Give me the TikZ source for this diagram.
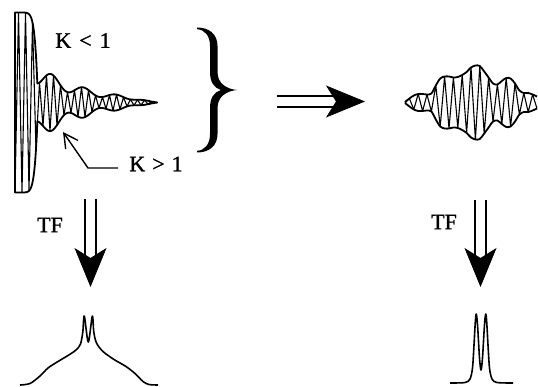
\documentclass[tikz,border=0pt]{standalone}
\usepackage{fontspec}
\setmainfont{Liberation Serif}
\newfontfamily\lblfont{Liberation Serif}[FakeBold=1.2]
\usetikzlibrary{arrows.meta}
\def\Aright{{0.5,4,7,8.5,8.5,8,9,17,24,26,26,25,25.5,27.5,30.5,35,37,36.5,31,25,19,18,21.5,24.5,24,19,12,9.5,9.5,8,6}}
\tikzset{lbl/.style={inner sep=0pt,font=\lblfont\fontsize{22}{26}\selectfont},env/.style={line width=1.8pt,line join=round},osc/.style={line width=1.1pt,line join=round},spec/.style={line width=1.6pt,line join=round,smooth,tension=.5},shaft/.style={double,double distance=9.7pt,line width=1.4pt,shorten >=32pt},head/.style={line width=.8pt,-{Stealth[length=39pt,width=32pt,inset=10pt]},shorten <=59pt},barb/.style={line width=1.4pt,-{Straight Barb[length=14pt,width=15pt]}},declare function={bq(\x)=(min(\x-15,25)/23)*(min(\x-15,25)/23);bigenv(\x)=90*(1-bq(\x)*bq(\x)*bq(\x)*bq(\x));beatenv(\x)=28*exp(-(\x-52)/51)*(0.75+0.25*cos(11.25*(\x-52)))*min(1,(158-\x)/25);fidenv(\x)=max(bigenv(\x),beatenv(\x));}}

\begin{document}
\begin{tikzpicture}[x=1pt,y=-1pt]
\useasboundingbox (0,0) rectangle (538,387);
\draw[env] plot[domain=15:157,samples=300] (\x,{102.5-fidenv(\x)}) -- plot[domain=157:15,samples=300] (\x,{102.5+fidenv(\x)}) -- cycle;
\draw[osc] plot[samples at={15,18.5,...,155}] (\x,{102.5+cos(51.4286*(\x-15))*fidenv(\x)});
\draw[env] plot[smooth,samples at={0,...,30}] ({405+4.4*\x},{102.5-\Aright[\x]});
\draw[env] plot[smooth,samples at={0,...,30}] ({405+4.4*\x},{102.5+\Aright[\x]});
\draw[osc] plot[samples at={0,...,30}] ({405+4.4*\x},{102.5+cos(180*\x)*\Aright[\x]});
\fill (197,27.5) .. controls (209,27.5) and (217.5,34) .. (217.5,46) -- (217.5,72) .. controls (217.5,83) and (226,89) .. (237,90) .. controls (226,91) and (217.5,97) .. (217.5,108) -- (217.5,134) .. controls (217.5,146) and (209,152.5) .. (197,152.5) -- (197,150.8) .. controls (205,150.3) and (210,144) .. (210,134) -- (210,108) .. controls (210,98) and (214,92) .. (221,90) .. controls (214,88) and (210,82) .. (210,72) -- (210,46) .. controls (210,36) and (205,29.7) .. (197,29.2) -- cycle;
\node[lbl] (klt) at (83,40.5) {K\hspace{8pt}<\hspace{8pt}1};
\node[lbl] (kgt) at (156,164) {K\hspace{7pt}>\hspace{7pt}1};
\node[lbl] (tfl) at (50,225) {TF};
\node[lbl] (tfr) at (444,222) {TF};
\coordinate (kA) at (118,168);\coordinate (kB) at (88,168);\coordinate (kC) at (63,132);
\draw[barb] (kA)--(kB)--(kC);
\coordinate (hA) at (277,101.5);\coordinate (hB) at (365,101.5);
\coordinate (lA) at (90.5,199);\coordinate (lB) at (90.5,287);
\coordinate (rA) at (480.5,200);\coordinate (rB) at (480.5,287);
\foreach \a/\b in {hA/hB,lA/lB,rA/rB}{\draw[shaft] (\a)--(\b);\draw[head] (\a)--(\b);}
\draw[spec] plot coordinates {(20,385) (30,383.5) (40,376) (48,368) (58,361.5) (68,355.5) (76,350) (80.5,344) (82.8,332) (84.3,316) (88.3,342) (92.3,316) (93.8,332) (96.5,343) (103,351.5) (114,359.5) (126,366.5) (135,373.5) (143,381.5) (149,384.5) (158,385)};
\draw[spec] plot coordinates {(450,383) (465,382.5) (470,379) (472.5,368) (474,345) (475.3,322) (476.3,314) (477.6,326) (479.5,358) (481,370) (482.5,358) (484.4,326) (485.7,314) (486.7,322) (488,345) (489.5,368) (492,379) (497,382.5) (513,383)};
\end{tikzpicture}
\end{document}
